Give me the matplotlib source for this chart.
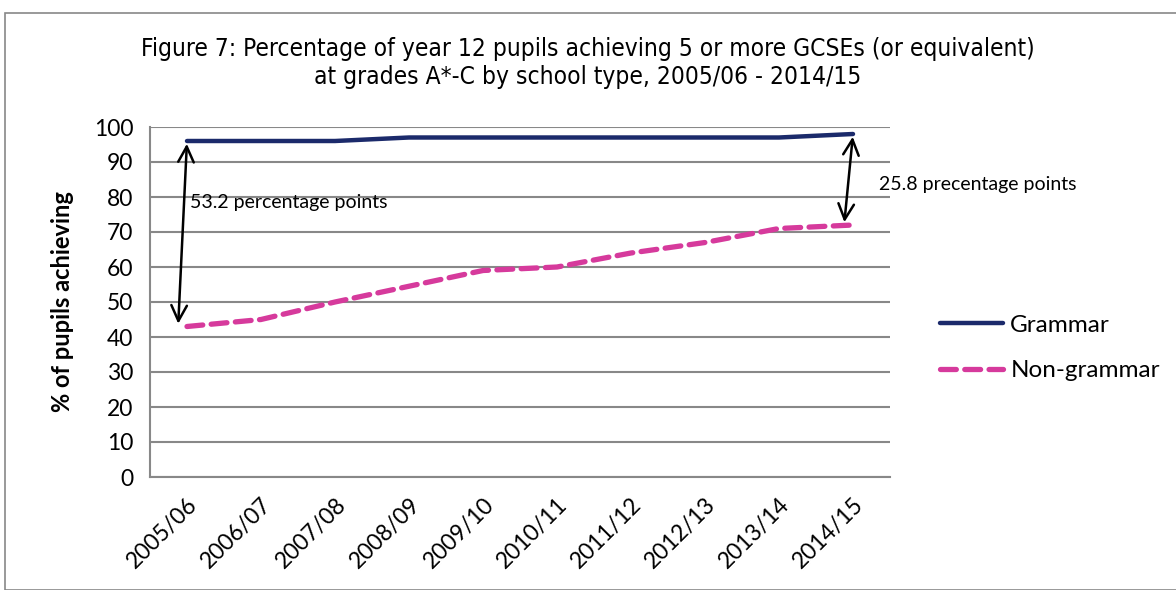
import matplotlib
matplotlib.use('Agg')
import matplotlib.pyplot as plt
from matplotlib.patches import Rectangle

# Chart data
years = ['2005/06', '2006/07', '2007/08', '2008/09', '2009/10',
         '2010/11', '2011/12', '2012/13', '2013/14', '2014/15']
grammar = [96, 96, 96, 97, 97, 97, 97, 97, 97, 98]
non_grammar = [43, 45, 50, 54.5, 59, 60, 64, 67, 71, 72]
y_ticks = [0, 10, 20, 30, 40, 50, 60, 70, 80, 90, 100]

plt.rcParams['font.family'] = ['Lato', 'DejaVu Sans']

fig = plt.figure(figsize=(11.76, 5.9), dpi=100)
ax = fig.add_axes([150/1176, 113/590, 740/1176, 350/590])

x = list(range(len(years)))
ax.plot(x, grammar, color='#1b2a6b', lw=3.2, label='Grammar', solid_capstyle='round')
ax.plot(x, non_grammar, color='#d63a9c', lw=3.8, ls=(0, (3, 1.6)),
        label='Non-grammar', dash_capstyle='round')

ax.set_xlim(-0.5, len(years) - 0.5)
ax.set_ylim(0, 100)
ax.set_yticks(y_ticks)
ax.set_xticks(x)
ax.set_xticklabels(years, rotation=45, ha='right', rotation_mode='anchor')
ax.tick_params(axis='both', length=0, labelsize=16.5)
ax.tick_params(axis='x', pad=12)
ax.tick_params(axis='y', pad=12)
ax.grid(axis='y', color='#888888', lw=1.5)
ax.set_axisbelow(True)
for s in ['top', 'right']:
    ax.spines[s].set_visible(False)
for s in ['left', 'bottom']:
    ax.spines[s].set_color('#888888')
    ax.spines[s].set_linewidth(1.5)

ax.set_ylabel('% of pupils achieving', fontsize=17, fontweight='bold', labelpad=14)

# gap arrows
arr = dict(arrowstyle='<->', color='black', lw=1.8, mutation_scale=28)
ax.annotate('', xy=(0, grammar[0]), xytext=(-0.12, non_grammar[0]), arrowprops=arr)
ax.annotate('', xy=(9, grammar[-1]), xytext=(8.88, non_grammar[-1]), arrowprops=arr)
ax.text(0.04, 78.5, '53.2 percentage points', fontsize=14, va='center')
ax.text(9.35, 83.5, '25.8 precentage points', fontsize=14, va='center')

fig.legend(loc='center left', bbox_to_anchor=(918/1176, 1 - 348/590), frameon=False,
           fontsize=17.5, handlelength=2.6, labelspacing=1.0, handletextpad=0.3)

fig.text(0.5, 1 - 63/590,
         'Figure 7: Percentage of year 12 pupils achieving 5 or more GCSEs (or equivalent)\n'
         'at grades A*-C by school type, 2005/06 - 2014/15',
         ha='center', va='center', fontsize=17.6, linespacing=1.2,
         family=['DejaVu Sans'], fontstretch='condensed', fontweight='medium')

# outer chart border
fig.patches.append(Rectangle((5/1176, 0), 1.2, 1 - 13/590, transform=fig.transFigure,
                             fill=False, edgecolor='#888888', lw=1.2))

fig.savefig('out.png', dpi=100)
